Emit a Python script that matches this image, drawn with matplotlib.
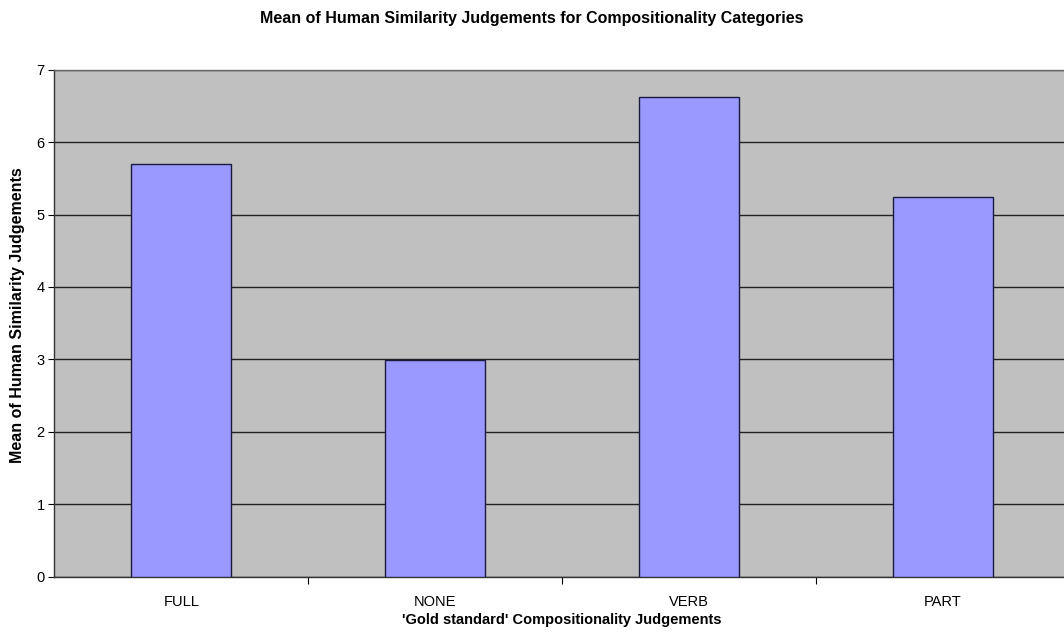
import matplotlib
matplotlib.use("Agg")
import matplotlib.pyplot as plt
import numpy as np

plt.rcParams["font.family"] = ["Liberation Sans", "DejaVu Sans"]

categories = ["FULL", "NONE", "VERB", "PART"]
means = [5.70, 2.99, 6.62, 5.24]

fig = plt.figure(figsize=(10.64, 6.37), dpi=100)
ax = fig.add_axes([0.051, 0.0947, 0.9546, 0.7959])
ax.set_facecolor("#c0c0c0")

x = np.arange(len(categories))
ax.bar(x, means, width=0.395, color="#9999ff", edgecolor="#1a1a40",
       linewidth=1.0, zorder=3)

ax.set_xlim(-0.5, 3.5)
ax.set_ylim(0, 7)
ax.set_yticks(range(0, 8))
ax.yaxis.grid(True, color="#222222", linewidth=1.0, zorder=1)
ax.set_axisbelow(True)

# category ticks sit at the boundaries, labels centred under the bars
ax.set_xticks(np.arange(0.5, 3.5, 1.0))
ax.set_xticklabels([])
ax.set_xticks(x, minor=True)
ax.set_xticklabels(categories, minor=True)
ax.tick_params(axis="x", which="minor", length=0, pad=13, labelsize=10.5)
ax.tick_params(axis="x", which="major", length=5, direction="out", width=0.8)
ax.tick_params(axis="y", length=4, direction="out", labelsize=10.5, pad=3, width=0.8)

for side in ["left", "bottom", "top"]:
    ax.spines[side].set_color("#333333")
    ax.spines[side].set_linewidth(1.0)
ax.spines["top"].set_color("#666666")
ax.spines["right"].set_visible(False)

ax.set_xlabel("'Gold standard' Compositionality Judgements", fontsize=10.5,
              fontweight="bold", labelpad=3)
ax.set_ylabel("Mean of Human Similarity Judgements", fontsize=11.5,
              fontweight="bold")
ax.yaxis.set_label_coords(-0.029, 0.515)
fig.suptitle("Mean of Human Similarity Judgements for Compositionality Categories",
             fontsize=11.5, fontweight="bold", x=0.5, y=0.982)

fig.savefig("out.png", dpi=100)
